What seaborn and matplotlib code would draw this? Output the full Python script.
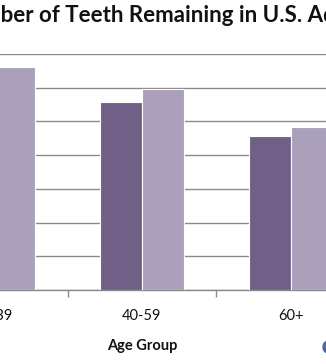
import matplotlib
matplotlib.use("Agg")
import matplotlib.pyplot as plt
import seaborn as sns
import pandas as pd
from matplotlib.patches import Ellipse

# Data
age_groups = ["20-39", "40-59", "60+"]
series_names = ["Series A", "Series B"]
series_a = [26.6, 22.3, 18.3]
series_b = [26.4, 23.8, 19.3]
y_ticks = [0, 4, 8, 12, 16, 20, 24, 28]

df = pd.DataFrame({
    "Age Group": age_groups * 2,
    "Series": [series_names[0]] * 3 + [series_names[1]] * 3,
    "Teeth": series_a + series_b,
})

sns.set_theme(style="white")
plt.rcParams["font.family"] = ["Lato", "DejaVu Sans"]

W, H = 326, 364
fig = plt.figure(figsize=(W / 100, H / 100), dpi=100)
bottom_px, top_px = 290, 54
ax = fig.add_axes([0, 1 - bottom_px / H, 1, (bottom_px - top_px) / H])

sns.barplot(data=df, x="Age Group", y="Teeth", hue="Series",
            palette=["#6F598E", "#A99BC0"], width=0.565,
            edgecolor="white", linewidth=0.8, ax=ax, legend=False,
            zorder=3)

ax.set_yticks(y_ticks)
ax.yaxis.grid(True, color="#8a8a8a", linewidth=1.0, zorder=0)
ax.set_axisbelow(True)
for s in ["left", "right", "top"]:
    ax.spines[s].set_visible(False)
ax.spines["bottom"].set_color("#8a8a8a")
ax.spines["bottom"].set_linewidth(1.0)
ax.tick_params(axis="y", left=False, labelleft=False)
ax.set_xticks([0, 1, 2])
ax.set_xticklabels(age_groups)
label_pad = 14
label_size = 10.5
ax.tick_params(axis="x", which="major", length=0, pad=label_pad,
               labelsize=label_size, labelcolor="#111111")
ax.set_xticks([0.5, 1.5], minor=True)
ax.tick_params(axis="x", which="minor", bottom=True, length=5,
               width=1.0, color="#8a8a8a", direction="out")
ax.set_xlabel("")
ax.set_ylabel("")

# limits last (set_xticks may widen the view)
px_per_cat = 148.7
x0 = 6.7 / px_per_cat
ax.set_xlim(x0, x0 + W / px_per_cat)
ax.set_ylim(0, 28)

# first category label lies partly outside the view, so draw it explicitly
ax.annotate(age_groups[0], xy=(0, 0), xycoords=("data", "axes fraction"),
            xytext=(0, -label_pad), textcoords="offset points",
            ha="center", va="top", fontsize=label_size, color="#111111",
            annotation_clip=False)

fig.text(142 / W, 1 - 346 / H, "Age Group", ha="center", va="center",
         fontsize=10.5, fontweight="bold", color="#111111")

# Title (cropped on both sides)
title = "Mean Number of Teeth Remaining in U.S. Adults"
prefix = "Mean Num"
title_size = 16
renderer = fig.canvas.get_renderer()
tmp = fig.text(0, 0, prefix, fontsize=title_size, fontweight="bold")
pw = tmp.get_window_extent(renderer=renderer).width
tmp.remove()
fig.text((-pw + 1) / W, 1 - 16 / H, title, ha="left", va="center",
         fontsize=title_size, fontweight="bold", color="#111111")

fig.patches.append(Ellipse((327 / W, 1 - 347 / H), 8 / W, 11 / H,
                           transform=fig.transFigure, color="#4F6AA6"))

fig.savefig("out.png", dpi=100)
